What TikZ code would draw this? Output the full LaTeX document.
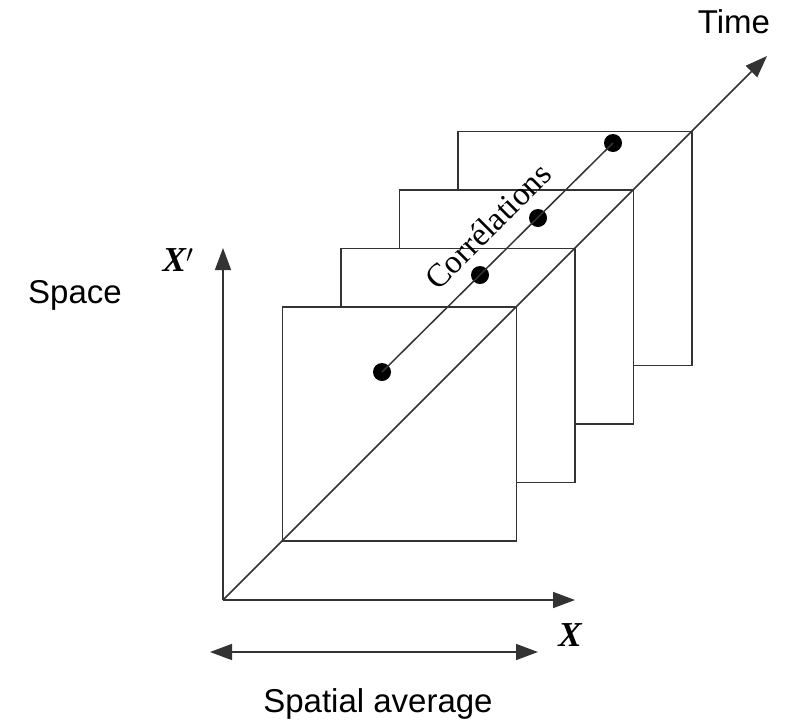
\documentclass[tikz,border=0pt]{standalone}
\usepackage{fontspec}
\setmainfont{Liberation Serif}
\setsansfont{Liberation Sans}
\usetikzlibrary{arrows.meta, positioning}

\begin{document}
\begin{tikzpicture}[
    x=1pt, y=-1pt,
    line width=1.5pt,
    >={Triangle[length=22pt, width=16pt]},
    frame/.style={draw=black!80, fill=white, minimum size=234pt, inner sep=0pt},
    dot/.style={circle, fill=black, minimum size=18pt, inner sep=0pt},
    lbl/.style={font=\sffamily\fontsize{33}{40}\selectfont},
    axislbl/.style={font=\bfseries\itshape\fontsize{35}{40}\selectfont}
]
\useasboundingbox (0,0) rectangle (792,721);

\coordinate (origin) at (223,600);
\coordinate (xend) at (575,600);
\coordinate (yend) at (223,248);
\coordinate (tend) at (767,56);

% frames, back to front
\foreach \i in {3,2,1,0}
    \node[frame] (sq\i) at (399.5+58.5*\i, 424-58.5*\i) {};

% axes
\draw[->, black!80] (origin) -- (xend);
\draw[->, black!80] (origin) -- (yend);
\draw[->, black!80] (origin) -- (tend);

% correlations
\node[dot] (d1) at (382,372) {};
\node[dot] (d2) at (480,275) {};
\node[dot] (d3) at (538,218) {};
\node[dot] (d4) at (613,143) {};
\draw[black!80] (d1.center) -- (d4.center);
\node[rotate=45, font=\fontsize{33}{38}\selectfont] (corr) at (488,226) {Corrélations};

% labels
\node[lbl] (time) at (734,22) {Time};
\node[lbl] (space) at (75,295) {Space};
\node[axislbl] (xlbl) at (570,635) {X};
\node[axislbl] (xplbl) at (178,260) {X$'$};

% spatial average
\coordinate (avgl) at (210,652);
\coordinate (avgr) at (538,652);
\draw[<->, black!80] (avgl) -- (avgr);
\node[lbl] (avg) at (378,704) {Spatial average};

\end{tikzpicture}
\end{document}
